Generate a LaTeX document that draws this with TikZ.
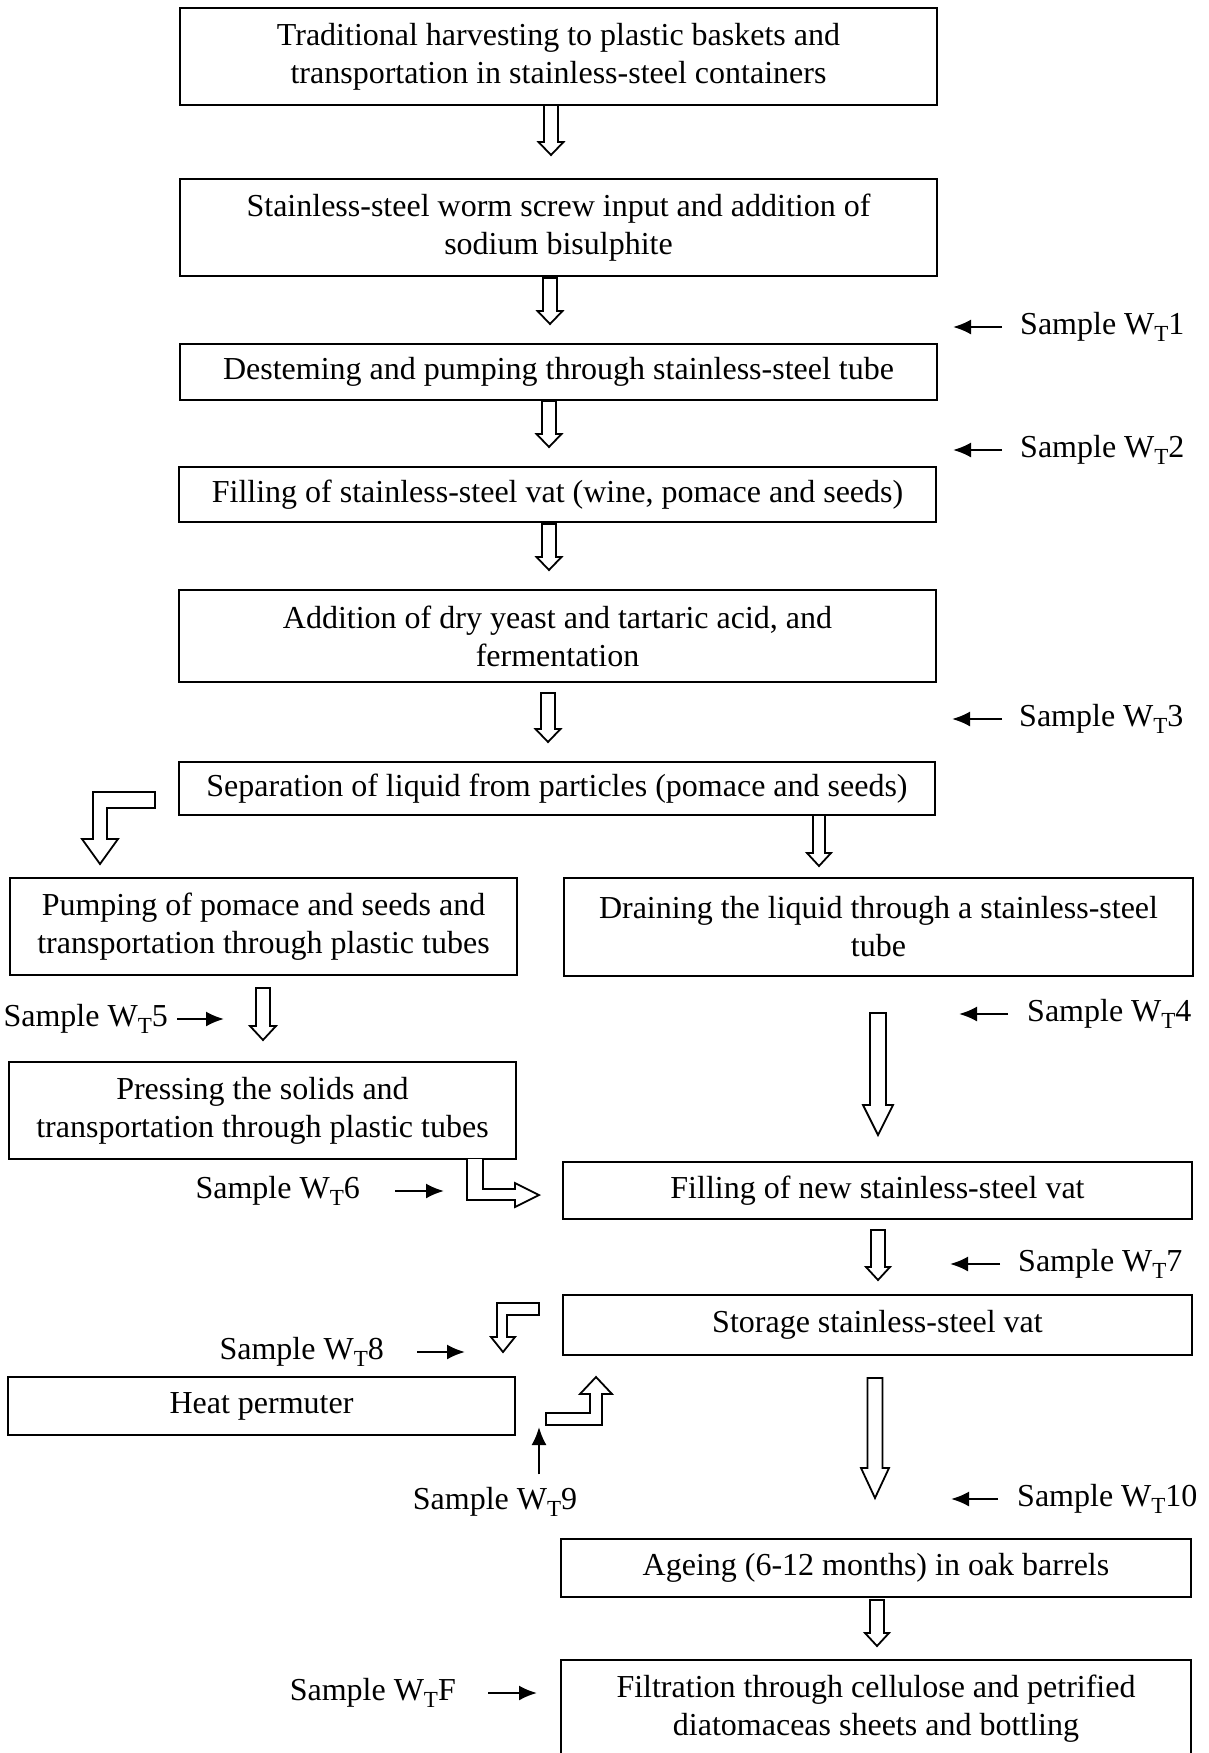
\documentclass[tikz,border=0pt]{standalone}
\usepackage{fontspec}
\setmainfont{Liberation Serif}
\usetikzlibrary{arrows.meta,calc}
\newcommand\WT{W\raisebox{-0.22em}{\fontsize{23}{23}\selectfont T}}
\newcommand\blkdown[8]{%
  \draw[blockarrow] let \p1=(#1.south), \p2=(#2.north) in
    ({(#3-#6)*1pt},{\y1-#4*1pt}) --
    ({(#3-#6)*1pt},{\y2+(#5+#8)*1pt}) --
    ({(#3-#7)*1pt},{\y2+(#5+#8)*1pt}) --
    ({#3*1pt},{\y2+#5*1pt}) --
    ({(#3+#7)*1pt},{\y2+(#5+#8)*1pt}) --
    ({(#3+#6)*1pt},{\y2+(#5+#8)*1pt}) --
    ({(#3+#6)*1pt},{\y1-#4*1pt}) -- cycle;}
\tikzset{
  box/.style={draw, line width=2.2pt, outer sep=0pt, inner sep=0pt, align=center,
    font=\fontsize{32}{38}\selectfont},
  lbl/.style={inner sep=0pt, text height=22pt, text depth=7pt,
    font=\fontsize{32}{38}\selectfont},
  sarrow/.style={line width=2.2pt, -{Latex[length=18pt,width=15pt]}},
  blockarrow/.style={draw, line width=1.8pt, line join=miter, fill=white}
}
\begin{document}
\begin{tikzpicture}[x=1pt,y=-1pt]
\useasboundingbox (0,0) rectangle (1209,1753);
\fill[white] (0,0) rectangle (1209,1753);
\clip (0,0) rectangle (1209,1753);

% boxes
\node[box, minimum width=757pt, minimum height=97pt] (b1) at (558.5,56.5)
  {Traditional harvesting to plastic baskets and\\transportation in stainless-steel containers};
\node[box, minimum width=757pt, minimum height=97pt] (b2) at (558.5,227.5)
  {Stainless-steel worm screw input and addition of\\sodium bisulphite};
\node[box, minimum width=757pt, minimum height=56pt] (b3) at (558.5,372)
  {Desteming and pumping through stainless-steel tube};
\node[box, minimum width=757pt, minimum height=55pt] (b4) at (557.5,494.5)
  {Filling of stainless-steel vat (wine, pomace and seeds)};
\node[box, minimum width=757pt, minimum height=92pt] (b5) at (557.5,636)
  {Addition of dry yeast and tartaric acid, and\\fermentation};
\node[box, minimum width=756pt, minimum height=53pt] (b6) at (557,788.5)
  {Separation of liquid from particles (pomace and seeds)};
\node[box, minimum width=507pt, minimum height=97pt] (b7) at (263.5,926.5)
  {Pumping of pomace and seeds and\\transportation through plastic tubes};
\node[box, minimum width=629pt, minimum height=98pt] (b8) at (878.5,927)
  {Draining the liquid through a stainless-steel\\tube};
\node[box, minimum width=507pt, minimum height=97pt] (b9) at (262.5,1110.5)
  {Pressing the solids and\\transportation through plastic tubes};
\node[box, minimum width=629pt, minimum height=57pt] (b10) at (877.5,1190.5)
  {Filling of new stainless-steel vat};
\node[box, minimum width=629pt, minimum height=60pt] (b11) at (877.5,1325)
  {Storage stainless-steel vat};
\node[box, minimum width=507pt, minimum height=58pt] (b12) at (261.5,1406)
  {Heat permuter};
\node[box, minimum width=630pt, minimum height=58pt] (b13) at (876,1568)
  {Ageing (6-12 months) in oak barrels};
\node[box, minimum width=630pt, minimum height=98pt] (b14) at (876,1709)
  {Filtration through cellulose and petrified\\diatomaceas sheets and bottling};

% straight hollow arrows: src, tgt, x, top gap, bottom gap, shaft half, head half, head len
\blkdown{b1}{b2}{551}{0}{24}{7}{12.5}{13}
\blkdown{b2}{b3}{550}{2}{20}{7}{12.5}{13}
\blkdown{b3}{b4}{549}{1}{20}{7}{12.5}{13}
\blkdown{b4}{b5}{549}{2}{20}{7}{12.5}{13}
\blkdown{b5}{b6}{548}{11}{20}{7}{12.5}{13}
\blkdown{b6}{b8}{819}{0}{12}{6}{12}{13}
\blkdown{b7}{b9}{263}{13}{22}{7}{13}{14}
\blkdown{b8}{b10}{878}{37}{27}{8}{15}{30}
\blkdown{b10}{b11}{878}{11}{15}{7}{12}{13}
\blkdown{b11}{b13}{875}{23}{41}{7.5}{14}{30}
\blkdown{b13}{b14}{877}{3}{14}{7}{12}{13}

% bent hollow arrows
\draw[blockarrow] (155,792) -- (93,792) -- (93,839) -- (82,839) -- (100,864)
  -- (118,839) -- (107,839) -- (107,808) -- (155,808) -- cycle;
\draw[blockarrow] (467,1159) -- (467,1200) -- (515,1200) -- (515,1207) -- (539,1195)
  -- (515,1183) -- (515,1189) -- (483,1189) -- (483,1159);
\draw[blockarrow] (539,1303) -- (497,1303) -- (497,1337) -- (491,1337) -- (503,1352)
  -- (515,1337) -- (507,1337) -- (507,1315) -- (539,1315) -- cycle;
\draw[blockarrow] (546,1413) -- (590,1413) -- (590,1394) -- (580,1394) -- (596,1377)
  -- (612,1394) -- (602,1394) -- (602,1425) -- (546,1425) -- cycle;

% sample labels (right side)
\node[lbl, anchor=west] (s1) at (1020,327) {Sample \WT1};
\coordinate (s1t) at (953,327);
\draw[sarrow, shorten <=18pt] (s1.west) -- (s1t);
\node[lbl, anchor=west] (s2) at (1020,450) {Sample \WT2};
\coordinate (s2t) at (953,450);
\draw[sarrow, shorten <=18pt] (s2.west) -- (s2t);
\node[lbl, anchor=west] (s3) at (1019,719) {Sample \WT3};
\coordinate (s3t) at (952,719);
\draw[sarrow, shorten <=17pt] (s3.west) -- (s3t);
\node[lbl, anchor=west] (s4) at (1027,1014) {Sample \WT4};
\coordinate (s4t) at (959,1014);
\draw[sarrow, shorten <=19pt] (s4.west) -- (s4t);
\node[lbl, anchor=west] (s7) at (1018,1264) {Sample \WT7};
\coordinate (s7t) at (950,1264);
\draw[sarrow, shorten <=18pt] (s7.west) -- (s7t);
\node[lbl, anchor=west] (s10) at (1017,1499) {Sample \WT10};
\coordinate (s10t) at (951,1499);
\draw[sarrow, shorten <=19pt] (s10.west) -- (s10t);

% sample labels (left side)
\node[lbl, anchor=east] (s5) at (168,1019) {Sample \WT5};
\coordinate (s5t) at (224,1019);
\draw[sarrow, shorten <=9pt] (s5.east) -- (s5t);
\node[lbl, anchor=east] (s6) at (360,1191) {Sample \WT6};
\coordinate (s6t) at (444,1191);
\draw[sarrow, shorten <=35pt] (s6.east) -- (s6t);
\node[lbl, anchor=east] (s8) at (384,1352) {Sample \WT8};
\coordinate (s8t) at (465,1352);
\draw[sarrow, shorten <=33pt] (s8.east) -- (s8t);
\node[lbl, anchor=east] (sF) at (456,1693) {Sample \WT F};
\coordinate (sFt) at (537,1693);
\draw[sarrow, shorten <=32pt] (sF.east) -- (sFt);
\node[lbl] (s9) at (495,1502) {Sample \WT9};
\coordinate (s9t) at (539,1427);
\draw[sarrow, shorten <=13pt] (s9t |- s9.north) -- (s9t);
\end{tikzpicture}
\end{document}
